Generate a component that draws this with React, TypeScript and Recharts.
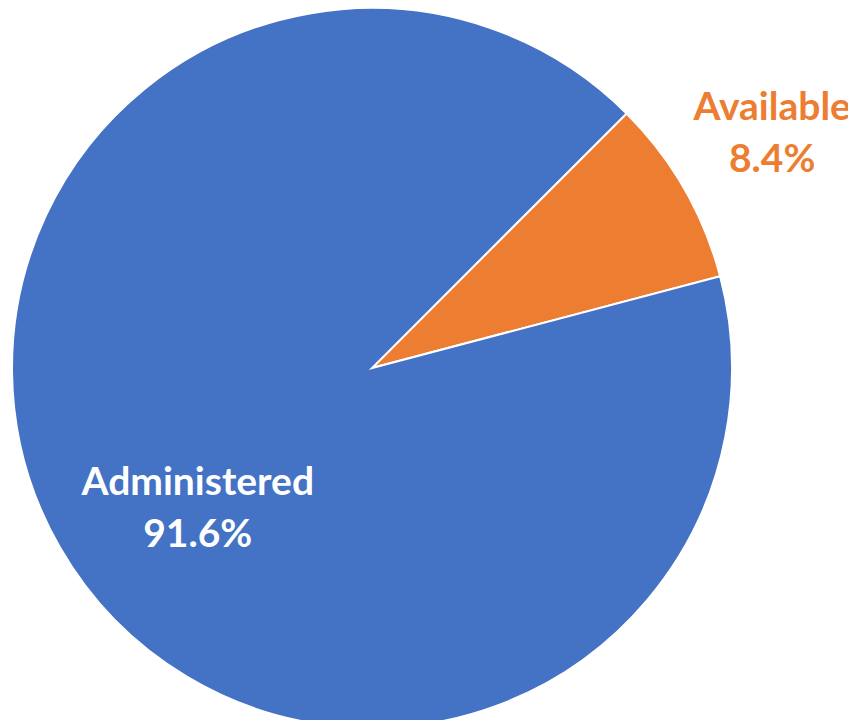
import { Cell, Pie, PieChart } from "recharts";

const categories = ["Available", "Administered"];
const shares = [8.4, 91.6];
const colors = ["#ED7D31", "#4472C4"];
const labelColors = ["#ED7D31", "#FFFFFF"];

const data = categories.map((name, i) => ({ name, value: shares[i] }));

const RADIAN = Math.PI / 180;
const FONT = "Lato, 'Open Sans', sans-serif";

// Excel's "best fit" placement: the small slice sits outside, the big one inside,
// nudged a bit from its mid angle.
function renderLabel(props: any) {
  const { cx, cy, midAngle, outerRadius, index } = props;
  const inside = index === 1;
  const r = inside ? outerRadius * 0.62 : outerRadius * 1.29;
  const angle = inside ? midAngle + 8.8 : midAngle + 0.6;
  const x = cx + r * Math.cos(-angle * RADIAN);
  const y = cy + r * Math.sin(-angle * RADIAN);
  return (
    <text
      x={x}
      y={y}
      fill={labelColors[index]}
      textAnchor="middle"
      fontFamily={FONT}
      fontWeight={700}
      fontSize={39}
    >
      <tspan x={x} dy={-12}>{categories[index]}</tspan>
      <tspan x={x} dy={52}>{`${shares[index].toFixed(1)}%`}</tspan>
    </text>
  );
}

export default function App() {
  // cancel the default 8px body margin so the chart fills the window
  return (
    <div style={{ width: 856, height: 728, margin: -8, background: "#fff" }}>
      <PieChart
        width={856}
        height={728}
        margin={{ top: 0, right: 0, bottom: 0, left: 0 }}
        style={{ overflow: "visible" }}
      >
        <Pie
          data={data}
          dataKey="value"
          nameKey="name"
          cx={372}
          cy={368}
          outerRadius={360}
          startAngle={45}
          endAngle={-315}
          stroke="#fff"
          strokeWidth={2}
          label={renderLabel}
          labelLine={false}
          isAnimationActive={false}
        >
          {data.map((d, i) => (
            <Cell key={d.name} fill={colors[i]} />
          ))}
        </Pie>
      </PieChart>
    </div>
  );
}
